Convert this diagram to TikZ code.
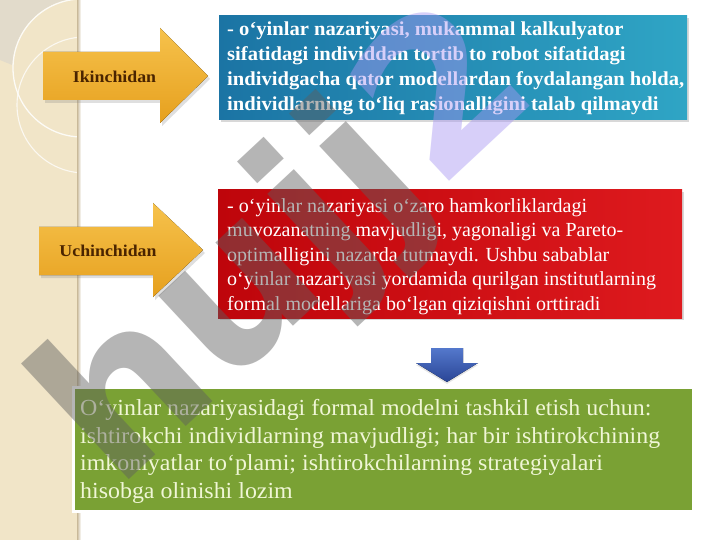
\documentclass[tikz,border=0pt]{standalone}
\usepackage{fontspec}
\setmainfont{Liberation Serif}
\newfontfamily\bfam[FakeStretch=1.08]{Liberation Serif}
\newfontfamily\bbfam[FakeStretch=1.04]{Liberation Serif}
\newfontfamily\gfam[FakeStretch=1.04]{Liberation Serif}
\newfontfamily\wmfam{DejaVu Sans}
\usetikzlibrary{shadows}
\definecolor{stripbg}{HTML}{F1E5C8}
\definecolor{stripgray}{HTML}{E2DBCB}
\definecolor{stripedge}{HTML}{C9B999}
\definecolor{goldA}{HTML}{F6C24C}
\definecolor{goldB}{HTML}{E6A01E}
\definecolor{labelbrown}{HTML}{4A2400}
\definecolor{blueA}{HTML}{1B74A4}
\definecolor{blueB}{HTML}{2FA5C5}
\definecolor{redA}{HTML}{BE050B}
\definecolor{redB}{HTML}{DE1A1E}
\definecolor{greenbox}{HTML}{7AA134}
\definecolor{greentext}{HTML}{F0F6D6}
\definecolor{darrowA}{HTML}{5478CC}
\definecolor{darrowB}{HTML}{2A4596}
\definecolor{wmgray}{HTML}{5E5E5E}
\definecolor{wmlav}{HTML}{A898F2}
\tikzset{
  goldarrow/.style={top color=goldA, bottom color=goldB, draw=none,
    drop shadow={opacity=0.25, shadow xshift=2pt, shadow yshift=-3pt}},
  arrowlabel/.style={font=\bfam\bfseries\fontsize{16.5}{19}\selectfont, text=labelbrown, inner sep=0pt},
  boxshadow/.style={drop shadow={opacity=0.3, shadow xshift=2pt, shadow yshift=-2pt}},
  bluetext/.style={font=\bbfam\bfseries\fontsize{19.8}{25}\selectfont, text=white, align=left, anchor=west, inner sep=0pt},
  redtext/.style={font=\fontsize{20}{24.5}\selectfont, text=white, align=left, anchor=west, inner sep=0pt},
  greentextstyle/.style={font=\gfam\fontsize{23}{27.7}\selectfont, text=greentext, align=left, anchor=west, inner sep=0pt}
}
\begin{document}
\begin{tikzpicture}[x=1pt,y=-1pt]
\useasboundingbox (0,0) rectangle (720,540);
\fill[white] (0,0) rectangle (720,540);
% left decorative strip
\fill[stripbg] (0,0) rectangle (78,540);
\begin{scope}
  \clip (0,0) rectangle (77,540);
  \fill[stripgray] (0,0) -- (67,0) arc[start angle=-102, end angle=-178, radius=69] -- (0,60) -- cycle;
  \draw[white, line width=1.3pt, opacity=0.85] (82,68) circle[radius=69];
  \draw[white, line width=1.1pt, opacity=0.75] (85,105) circle[radius=68];
\end{scope}
\fill[left color=stripedge, right color=white] (77,0) rectangle (81,540);

% gold arrows
\fill[goldarrow] (43,52) -- (160,52) -- (160,28) -- (208,76) -- (160,123) -- (160,100) -- (43,100) -- cycle;
\node[arrowlabel] (ik) at (114.5,77) {Ikinchidan};
\fill[goldarrow] (39,227) -- (153,227) -- (153,203) -- (203,250) -- (153,297) -- (153,275) -- (39,275) -- cycle;
\node[arrowlabel] (uch) at (108,251) {Uchinchidan};

% blue box
\fill[left color=blueA, right color=blueB, boxshadow] (219,16) rectangle (687,120);
\node[bluetext] (bluet) at (227,68.5) {- o‘yinlar nazariyasi, mukammal kalkulyator\\
sifatidagi individdan tortib to robot sifatidagi\\
individgacha qator modellardan foydalangan holda,\\
individlarning to‘liq rasionalligini talab qilmaydi};

% red box
\fill[left color=redA, right color=redB, boxshadow] (218,190) rectangle (682,318);
\node[redtext] (redt) at (227,256.5) {- o‘yinlar nazariyasi o‘zaro hamkorliklardagi\\
muvozanatning mavjudligi, yagonaligi va Pareto-\\
optimalligini nazarda tutmaydi. Ushbu sabablar\\
o‘yinlar nazariyasi yordamida qurilgan institutlarning\\
formal modellariga bo‘lgan qiziqishni orttiradi};

% blue down arrow
\fill[top color=darrowA, bottom color=darrowB,
  drop shadow={opacity=0.2, shadow xshift=0pt, shadow yshift=-2pt}]
  (431,348) -- (463,348) -- (463,363) -- (478,363) -- (447,382) -- (416,363) -- (431,363) -- cycle;

% green box
\fill[greenbox, draw=white, line width=3pt, boxshadow] (73,387) rectangle (693,511);
\node[greentextstyle] (greent) at (80,451.5) {O‘yinlar nazariyasidagi formal modelni tashkil etish uchun:\\
ishtirokchi individlarning mavjudligi; har bir ishtirokchining\\
imkoniyatlar to‘plami; ishtirokchilarning strategiyalari\\
hisobga olinishi lozim};

% watermark
\node[rotate=43, anchor=base west, inner sep=0pt, opacity=0.46, text=wmgray,
  font=\wmfam\bfseries\fontsize{208}{208}\selectfont] (wm) at (116,492) {hujj\textcolor{wmlav}{2}};
\end{tikzpicture}
\end{document}
